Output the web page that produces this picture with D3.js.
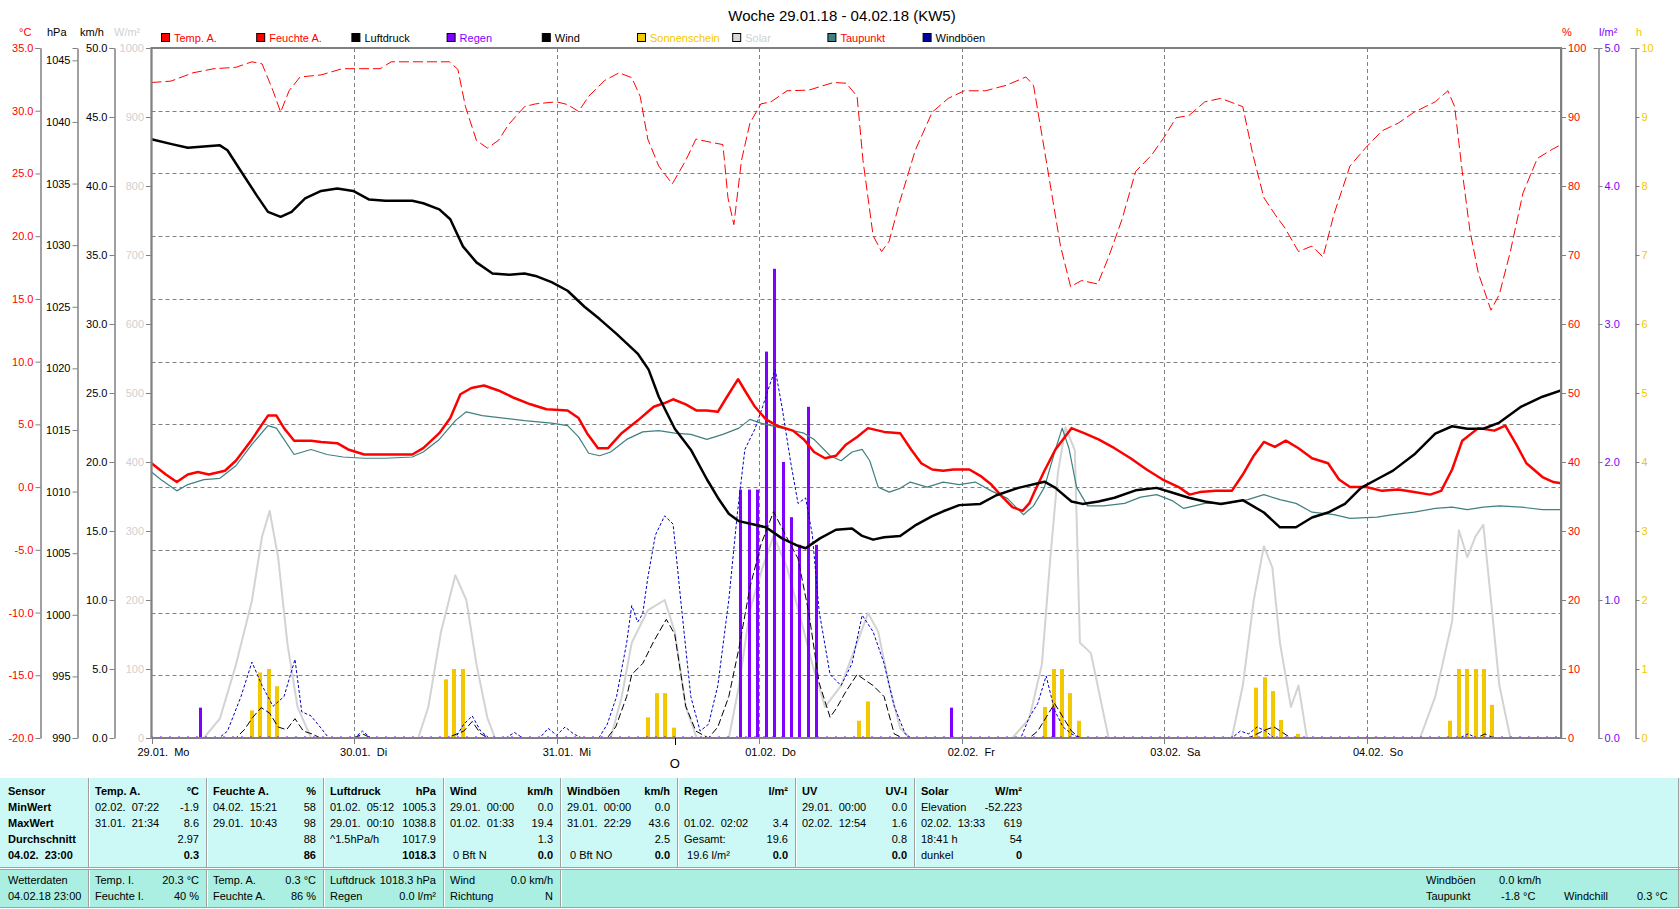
<!DOCTYPE html>
<html>
<head>
<meta charset="utf-8">
<script src="https://cdn.jsdelivr.net/npm/d3@7"></script>
<style>
  body { margin: 0; background: #fff; }
  svg text { font-family: "Liberation Sans", Arial, sans-serif; font-size: 11px; white-space: pre; }
</style>
</head>
<body>
<svg id="chart" width="1680" height="909"></svg>
<script>
// week data, x = hours since 29.01. 00:00
const tempA = [[0,1.9],[1.7,1.0],[3,0.4],[4.3,1.0],[5.5,1.2],[6.8,1.0],[8.7,1.3],[10,2.1],[11.9,3.8],[13.8,5.7],[14.8,5.7],[15.7,4.7],[16.9,3.7],[18.9,3.7],[20.1,3.6],[22,3.5],[23.3,3.0],[25.2,2.6],[27.7,2.6],[30.9,2.6],[32.2,3.1],[34.1,4.3],[35.4,5.5],[36.6,7.4],[37.9,7.9],[39.4,8.1],[41.1,7.7],[43,7.1],[44.9,6.6],[46.8,6.2],[49.3,6.1],[50.6,5.5],[51.6,4.3],[52.9,3.1],[54.1,3.1],[55.7,4.3],[57.6,5.3],[59.5,6.4],[60.8,6.7],[61.8,7.0],[63.3,6.6],[64.6,6.1],[65.8,6.1],[67.1,6.0],[68.1,7.1],[69.5,8.6],[70.3,7.7],[71.5,6.4],[72.8,5.4],[74.1,4.9],[76,4.5],[77.3,3.8],[78.5,2.8],[79.8,2.3],[81.1,2.5],[82.3,3.4],[83.6,4.0],[84.9,4.7],[86.8,4.4],[88.7,4.3],[90,3.0],[91.2,1.9],[92.5,1.4],[93.8,1.3],[95,1.4],[96.9,1.4],[98.2,0.9],[99.5,0.2],[100.7,-0.7],[102,-1.6],[103.2,-1.9],[104,-1.3],[104.6,-0.4],[105.8,1.3],[107.1,3.0],[109,4.7],[110.5,4.3],[112.2,3.8],[114.1,3.1],[116,2.3],[117.9,1.4],[119.8,0.6],[121.7,0],[123,-0.6],[124.2,-0.4],[126.1,-0.3],[128,-0.3],[129.3,1.0],[130.6,2.5],[131.8,3.6],[133.1,3.2],[134.4,3.7],[135.9,3.1],[137.5,2.3],[139.4,1.9],[140.7,0.6],[142,0],[143.9,0],[145.8,-0.3],[147.7,-0.2],[149.6,-0.4],[151.5,-0.6],[152.8,-0.3],[154.1,1.4],[155.3,3.7],[157.2,4.7],[159.1,4.5],[160.4,4.9],[161.7,3.4],[162.9,1.9],[164.8,0.8],[166.1,0.4],[167,0.3]];

const taupunkt = [[0,1.2],[1.1,0.6],[3,-0.3],[4.3,0.2],[6.2,0.6],[8.1,0.7],[10,1.7],[11.9,3.4],[13.8,4.9],[14.8,4.7],[15.7,3.8],[16.9,2.6],[18.9,3.0],[20.8,2.6],[22.7,2.4],[25.2,2.3],[27.7,2.3],[30.9,2.4],[32.2,2.8],[34.1,3.8],[36,5.3],[37.3,6.0],[39.2,5.7],[41.7,5.5],[44.2,5.3],[47.4,5.1],[49.3,4.9],[50.6,4.0],[51.8,2.7],[53.1,2.5],[54.4,2.8],[56.3,3.8],[58.2,4.4],[60.1,4.5],[62,4.3],[63.9,4.2],[65.8,3.8],[67.7,4.2],[69.6,4.7],[70.9,5.4],[72.2,5.1],[73.4,4.9],[75.3,4.6],[77.3,4.3],[78.5,3.8],[80.4,2.5],[81.7,2.1],[83,2.8],[84.2,3.0],[85.1,2.1],[86.1,0],[87.4,-0.4],[88.7,-0.1],[89.9,0.4],[91.9,0],[93.8,0.4],[95.7,0.2],[97.6,0.4],[99.5,-0.3],[101.4,-0.9],[103.3,-2.2],[104.5,-1.5],[105.8,0],[107.1,3.0],[107.9,4.7],[108.7,3.1],[109.6,0],[110.9,-1.5],[112.8,-1.5],[115.3,-1.3],[117.2,-0.8],[119.1,-0.6],[121,-1.1],[122.3,-1.7],[124.8,-1.3],[127.4,-1.3],[129.9,-1.0],[131.8,-0.6],[133.7,-1.0],[135.6,-1.3],[137.5,-2.0],[140.1,-2.2],[142,-2.5],[145.2,-2.4],[147.1,-2.2],[149.6,-2.0],[152.1,-1.7],[154.1,-1.6],[155.9,-1.8],[157.8,-1.6],[159.7,-1.5],[162.3,-1.6],[164.8,-1.8],[167,-1.8]];

const luftdruck = [[0,1038.6],[2.4,1038.2],[4.3,1037.9],[6.2,1038.0],[8.1,1038.1],[9,1037.7],[10.6,1036.0],[12.5,1034.0],[13.8,1032.7],[15.3,1032.3],[16.6,1032.7],[18.2,1033.8],[20.1,1034.4],[22,1034.6],[23.9,1034.4],[25.8,1033.7],[27.7,1033.6],[30.9,1033.6],[32.2,1033.4],[34.1,1032.9],[35.4,1032.1],[36.9,1029.9],[38.5,1028.6],[40.4,1027.7],[42.4,1027.6],[44.2,1027.7],[45.5,1027.5],[47.4,1027.0],[49.3,1026.3],[51.3,1025.0],[53.1,1024.0],[55.1,1022.8],[57.6,1021.2],[58.9,1019.9],[60.1,1017.7],[62,1015.1],[63.9,1013.4],[65.8,1011.0],[67.1,1009.5],[68.4,1008.2],[69.6,1007.6],[71.5,1007.3],[72.8,1007.1],[74.7,1006.2],[76.6,1005.6],[77.5,1005.4],[79.2,1006.2],[81.1,1006.9],[83,1007.0],[84.2,1006.4],[85.5,1006.1],[86.8,1006.3],[88.7,1006.4],[90.6,1007.3],[92.5,1008.0],[93.8,1008.4],[95.7,1008.9],[98.2,1009.0],[100.1,1009.7],[102.7,1010.3],[105.8,1010.8],[107.1,1010.3],[109,1009.2],[110.3,1009.0],[112.2,1009.2],[114.1,1009.5],[116.6,1010.1],[119.1,1010.3],[121,1009.9],[122.9,1009.5],[124.8,1009.2],[126.7,1009.0],[129.3,1009.3],[131.8,1008.3],[133.7,1007.1],[135.6,1007.1],[137.5,1007.9],[139.4,1008.3],[141.4,1009.0],[143.3,1010.3],[145.2,1011.0],[147.1,1011.7],[149.6,1013.0],[152.1,1014.7],[154.1,1015.3],[155.9,1015.1],[157.8,1015.1],[159.7,1015.6],[162.3,1016.9],[164.8,1017.7],[167,1018.2]];

const feuchteA = [[0,95],[2.3,95.2],[4.9,96.4],[7.4,97],[10,97.2],[11.9,98],[13.1,97.7],[14.4,93.8],[15.3,90.7],[16.3,93.8],[17.6,95.8],[20.1,96.1],[22.6,97],[27.1,97],[28.4,98],[35.3,98],[36.3,96.9],[37.2,91.5],[38.5,86.6],[39.8,85.5],[41.1,86.6],[42.3,88.9],[44.2,91.5],[45.5,91.9],[48,92.2],[49.3,91.8],[50.6,90.8],[51.8,93],[53.7,95.3],[55.4,96.4],[56.9,95.7],[57.9,93],[58.8,86.8],[60.1,82.9],[61.7,80.3],[63.3,83.7],[64.5,86.8],[66.4,86.3],[67.7,86],[68.3,78.3],[69,74.4],[69.9,83.7],[70.9,89.1],[72.2,91.9],[73.4,92.2],[75.3,93.8],[77.9,93.9],[80.8,95],[82.3,94.9],[83.6,93],[84.3,83.7],[85.5,72.8],[86.5,70.5],[87.4,72],[88.6,77.5],[90.5,85.2],[92.5,90.7],[94.4,92.7],[96.3,93.8],[98.8,93.8],[101.3,94.6],[103.6,95.8],[104.5,94.6],[105.8,85.2],[107.7,71.3],[108.9,65.4],[110.2,66.3],[112.1,65.8],[113.4,69.7],[115,75.2],[116.6,82.1],[118.5,84.5],[120,87.1],[121.4,89.9],[122.9,90.2],[124.8,92.2],[126.7,92.7],[129.3,91.5],[130.5,84.5],[131.8,78.3],[133.1,75.9],[134.3,73.9],[135.9,70.5],[137.5,71.3],[138.8,69.7],[140.1,75.9],[142,82.9],[143.9,85.6],[145.8,88],[147.7,89.1],[149.6,90.7],[152.1,92.2],[153.6,93.8],[154.4,91.5],[155.3,82.1],[156.2,73.6],[157.2,67.4],[158.7,62],[159.7,64.3],[161,70.5],[162.5,79],[164.2,84],[165.8,85.2],[167,86]];

const wind = [[0,0],[10,0],[11,0.6],[12,1.5],[13,2.2],[14,1.8],[15,0.8],[16,0.6],[17,1.4],[18,0.5],[19,0.3],[20,0],[24,0],[25,0.3],[26,0],[35,0],[37,0.5],[38,1.2],[39,0.3],[40,0],[54,0],[55,0.8],[56.3,3.0],[56.9,4.6],[58.2,5.4],[59.5,7.0],[61,8.6],[62,7.5],[63.3,2.3],[64.5,0.5],[66,0],[67.1,0.8],[68.4,3.0],[69.6,6.5],[70.9,10.9],[72.2,14.0],[73.7,16.4],[75.3,14.5],[76.6,13.0],[77.9,9.0],[79.1,4.0],[80.4,1.5],[81.2,2.2],[82.3,3.4],[83.6,4.6],[85.5,3.8],[86.8,3.0],[88,0.3],[89,0],[104,0],[105,0.5],[106,1.5],[107,2.5],[108,1.5],[109,0.5],[110,0],[130,0],[131,0.3],[132,0.6],[133,0.8],[134,0.4],[135,0],[157,0],[158,0.3],[159,0],[167,0]];

const windboeen = [[0,0],[8,0],[9,0.5],[10.6,3.0],[11.9,5.5],[13.1,3.8],[14.4,2.3],[15.7,3.0],[17,5.7],[17.8,1.9],[18.9,1.6],[20.1,0.7],[21,0],[24,0],[25,0.5],[26,0],[36,0],[37,1.0],[38,1.6],[39,0.5],[40,0],[42,0],[43,0.4],[44,0],[46,0],[47,0.7],[48,0.2],[49,0.8],[50,0.3],[51,0],[53,0],[54,1.0],[55.1,3.0],[56.3,6.9],[56.9,9.6],[57.6,8.4],[58.2,9.0],[58.8,11.6],[59.7,14.7],[60.8,16.1],[61.8,15.5],[62.7,10.0],[63.9,3.0],[65,0.5],[66,1.0],[67.1,3.8],[68.4,10.0],[69.4,16.2],[70.3,20.9],[71.5,22.4],[72.4,24.0],[73.2,25.5],[73.9,26.7],[74.7,24.0],[75.7,20.1],[76.6,17.0],[77.5,17.4],[78.3,14.7],[79.1,9.2],[80.4,4.6],[81.7,3.8],[83,5.4],[84.2,8.9],[85.5,7.7],[86.8,5.4],[88,2.3],[89.3,0.3],[90,0],[103,0],[104,1.5],[105,2.5],[106,4.5],[107,2.0],[108,0.8],[109,0.3],[110,0],[128,0],[129,0.5],[130,0.3],[131,0.8],[132,0.5],[133,0],[155,0],[156,0.3],[157,0],[167,0]];

const solar = [[0,0],[6.2,0],[8.1,28],[10,106],[11.9,199],[13.1,292],[14,329],[15,262],[16.1,137],[17.3,45],[18.9,0],[31.6,0],[32.8,45],[34.3,154],[36,236],[37.3,200],[38.5,107],[39.8,29],[40.7,0],[54.4,0],[55.7,59],[56.9,138],[58.8,185],[60.8,200],[62,154],[63.3,45],[64.6,0],[68.4,0],[69.6,75],[70.9,185],[72.4,247],[73.7,293],[75.3,247],[77,169],[78.3,107],[79.8,45],[81.7,76],[83.6,138],[84.9,181],[86.1,154],[87.4,76],[88.7,14],[89.9,0],[102,0],[104,28],[105.5,107],[106.5,262],[107.4,385],[108.3,450],[109.4,417],[110,138],[111.3,123],[112.1,76],[113.4,0],[128,0],[129.3,76],[130.6,200],[131.8,278],[132.8,247],[133.7,138],[135,45],[135.9,76],[136.9,0],[150.3,0],[152.1,60],[154.1,169],[154.9,301],[155.9,262],[156.9,293],[157.8,309],[158.7,200],[159.7,76],[161,0],[167,0]];

// hourly bars
const regen = [[6,0.22],[70,1.8],[71,1.8],[72,1.8],[73,2.8],[74,3.4],[75,2.0],[76,1.6],[77,1.4],[78,2.4],[79,1.4],[95,0.22],[107,0.22]];
const sonne = [[12,0.4],[13,0.95],[14,1.0],[15,0.75],[35,0.85],[36,1.0],[37,1.0],[59,0.3],[60,0.65],[61,0.65],[62,0.15],[84,0.25],[85,0.53],[106,0.45],[107,1.0],[108,1.0],[109,0.65],[110,0.25],[131,0.73],[132,0.88],[133,0.68],[134,0.26],[136,0.06],[154,0.25],[155,1.0],[156,1.0],[157,1.0],[158,1.0],[159,0.48]];

const dayLabels = ['29.01.  Mo', '30.01.  Di', '31.01.  Mi', '01.02.  Do', '02.02.  Fr', '03.02.  Sa', '04.02.  So'];
const legendNames = ['Temp. A.', 'Feuchte A.', 'Luftdruck', 'Regen', 'Wind', 'Sonnenschein', 'Solar', 'Taupunkt', 'Windböen'];
const legendFill = ['#ff0000', '#ff0000', '#000000', '#8000ff', '#000000', '#f2c800', '#d8d8d8', '#408080', '#0000a0'];
const legendText = ['#ff0000', '#ff0000', '#000000', '#8000ff', '#000000', '#f2c800', '#d0d0d0', '#ff0000', '#000000'];

// statistics table
const statCols = [
  {name: 'Temp. A.', unit: '°C', rows: [['02.02.  07:22', '-1.9'], ['31.01.  21:34', '8.6'], ['', '2.97'], ['', '0.3']]},
  {name: 'Feuchte A.', unit: '%', rows: [['04.02.  15:21', '58'], ['29.01.  10:43', '98'], ['', '88'], ['', '86']]},
  {name: 'Luftdruck', unit: 'hPa', rows: [['01.02.  05:12', '1005.3'], ['29.01.  00:10', '1038.8'], ['^1.5hPa/h', '1017.9'], ['', '1018.3']]},
  {name: 'Wind', unit: 'km/h', rows: [['29.01.  00:00', '0.0'], ['01.02.  01:33', '19.4'], ['', '1.3'], [' 0 Bft N', '0.0']]},
  {name: 'Windböen', unit: 'km/h', rows: [['29.01.  00:00', '0.0'], ['31.01.  22:29', '43.6'], ['', '2.5'], [' 0 Bft NO', '0.0']]},
  {name: 'Regen', unit: 'l/m²', rows: [['', ''], ['01.02.  02:02', '3.4'], ['Gesamt:', '19.6'], [' 19.6 l/m²', '0.0']]},
  {name: 'UV', unit: 'UV-I', rows: [['29.01.  00:00', '0.0'], ['02.02.  12:54', '1.6'], ['', '0.8'], ['', '0.0']]},
  {name: 'Solar', unit: 'W/m²', rows: [['Elevation', '-52.223'], ['02.02.  13:33', '619'], ['18:41 h', '54'], ['dunkel', '0']]}
];
const rowNames = ['Sensor', 'MinWert', 'MaxWert', 'Durchschnitt', '04.02.  23:00'];
const currentCols = [
  [['Wetterdaten', ''], ['04.02.18 23:00', '']],
  [['Temp. I.', '20.3 °C'], ['Feuchte I.', '40 %']],
  [['Temp. A.', '0.3 °C'], ['Feuchte A.', '86 %']],
  [['Luftdruck', '1018.3 hPa'], ['Regen', '0.0 l/m²']],
  [['Wind', '0.0 km/h'], ['Richtung', 'N']]
];

const svg = d3.select('#chart');
const plot = {left: 151.5, right: 1561, top: 48, bottom: 738};
const grey = '#808080';

const x = d3.scaleLinear().domain([0, 167]).range([plot.left, plot.right]);
const yTemp = d3.scaleLinear().domain([-20, 35]).range([plot.bottom, plot.top]);
const yDruck = d3.scaleLinear().domain([990, 1046]).range([plot.bottom, plot.top]);
const yWind = d3.scaleLinear().domain([0, 50]).range([plot.bottom, plot.top]);
const ySolar = d3.scaleLinear().domain([0, 1000]).range([plot.bottom, plot.top]);
const yFeuchte = d3.scaleLinear().domain([0, 100]).range([plot.bottom, plot.top]);
const yRegen = d3.scaleLinear().domain([0, 5]).range([plot.bottom, plot.top]);
const ySonne = d3.scaleLinear().domain([0, 10]).range([plot.bottom, plot.top]);

// title
svg.append('text')
    .attr('x', 842).attr('y', 21)
    .attr('text-anchor', 'middle')
    .style('font-size', '15px')
    .text('Woche 29.01.18 - 04.02.18 (KW5)');

// legend
legendNames.forEach(function(name, i) {
    var lx = 161 + i * 95.2;
    svg.append('rect')
        .attr('x', lx + 0.5).attr('y', 33.5)
        .attr('width', 8).attr('height', 8)
        .attr('fill', legendFill[i])
        .attr('stroke', '#000');
    svg.append('text')
        .attr('x', lx + 13).attr('y', 41.5)
        .attr('fill', legendText[i])
        .text(name);
});

// gridlines
var grid = svg.append('g');
grid.selectAll('line.h')
    .data(d3.range(-15, 35, 5))
    .enter().append('line')
    .attr('x1', plot.left).attr('x2', plot.right)
    .attr('y1', d => Math.round(yTemp(d)) + 0.5).attr('y2', d => Math.round(yTemp(d)) + 0.5)
    .attr('stroke', grey).attr('stroke-dasharray', '4,3');
grid.selectAll('line.v')
    .data(d3.range(24, 167, 24))
    .enter().append('line')
    .attr('x1', d => Math.round(x(d)) + 0.5).attr('x2', d => Math.round(x(d)) + 0.5)
    .attr('y1', plot.top).attr('y2', plot.bottom)
    .attr('stroke', grey).attr('stroke-dasharray', '4,3');

svg.append('clipPath').attr('id', 'clip')
    .append('rect')
    .attr('x', plot.left).attr('y', plot.top)
    .attr('width', plot.right - plot.left).attr('height', plot.bottom - plot.top);
var area = svg.append('g').attr('clip-path', 'url(#clip)');

function drawLine(data, yScale, color, width, dash) {
    var line = d3.line().x(d => x(d[0])).y(d => yScale(d[1]));
    area.append('path')
        .datum(data)
        .attr('d', line)
        .attr('fill', 'none')
        .attr('stroke', color)
        .attr('stroke-width', width)
        .attr('stroke-dasharray', dash || null)
        .attr('stroke-linejoin', 'round');
}

function drawBars(data, yScale, color, w) {
    area.selectAll(null)
        .data(data)
        .enter().append('rect')
        .attr('x', d => Math.round(x(d[0])) - 3)
        .attr('width', w)
        .attr('y', d => yScale(d[1]))
        .attr('height', d => plot.bottom - yScale(d[1]))
        .attr('fill', color);
}

drawLine(solar, ySolar, '#d3d3d3', 2);
drawBars(sonne, ySonne, '#f2c800', 4);
drawBars(regen, yRegen, '#8000ff', 3);
drawLine(windboeen, yWind, '#0000c8', 1, '3,2');
drawLine(wind, yWind, '#000', 1, '7,3');
drawLine(feuchteA, yFeuchte, '#ff0000', 1, '10,4');
drawLine(taupunkt, yTemp, '#408080', 1.2);
drawLine(tempA, yTemp, '#ff0000', 2.5);
drawLine(luftdruck, yDruck, '#000', 2.5);

// dotted zero line for rain
area.append('line')
    .attr('x1', plot.left).attr('x2', plot.right)
    .attr('y1', plot.bottom - 1.5).attr('y2', plot.bottom - 1.5)
    .attr('stroke', '#8000ff').attr('stroke-dasharray', '1,8');

// frame
svg.append('path')
    .attr('d', `M${plot.left},${plot.bottom}V${plot.top}H${plot.right}V${plot.bottom}`)
    .attr('fill', 'none').attr('stroke', grey).attr('stroke-width', 2);
svg.append('line')
    .attr('x1', plot.left).attr('x2', plot.right)
    .attr('y1', plot.bottom).attr('y2', plot.bottom)
    .attr('stroke', grey).attr('stroke-width', 2);

// x axis days
var days = d3.range(0, 167, 24);
svg.selectAll('line.dayTick')
    .data(days).enter().append('line')
    .attr('x1', d => Math.round(x(d)) + 0.5).attr('x2', d => Math.round(x(d)) + 0.5)
    .attr('y1', plot.bottom).attr('y2', plot.bottom + 6)
    .attr('stroke', grey);
svg.selectAll('text.day')
    .data(days).enter().append('text')
    .attr('x', d => x(d) - 14)
    .attr('y', 756)
    .text((d, i) => dayLabels[i]);

// wind direction mark
svg.append('line')
    .attr('x1', Math.round(x(62)) + 0.5).attr('x2', Math.round(x(62)) + 0.5)
    .attr('y1', plot.bottom).attr('y2', plot.bottom + 7)
    .attr('stroke', '#000');
svg.append('text')
    .attr('x', x(62)).attr('y', 768)
    .attr('text-anchor', 'middle')
    .style('font-size', '13px')
    .text('O');

// value axes
function fix1(d) { return d.toFixed(1); }
function addAxis(axis, xPos, color, unit, unitX) {
    var g = svg.append('g')
        .attr('transform', `translate(${xPos},0)`)
        .call(axis);
    g.select('.domain').attr('stroke', grey).attr('stroke-width', 1.5);
    g.selectAll('line').attr('stroke', grey);
    g.selectAll('text').attr('fill', color).style('font-size', '11px');
    svg.append('text')
        .attr('x', unitX).attr('y', 36)
        .attr('fill', color)
        .text(unit);
}

addAxis(d3.axisLeft(yTemp).tickValues(d3.range(-20, 36, 5)).tickFormat(fix1).tickSize(5).tickSizeOuter(0).tickPadding(2),
    40.5, '#ff0000', '°C', 19);
addAxis(d3.axisLeft(yDruck).tickValues(d3.range(990, 1046, 5)).tickFormat(d3.format('d')).tickSize(5).tickSizeOuter(0).tickPadding(2),
    77.5, '#000', 'hPa', 47);
addAxis(d3.axisLeft(yWind).tickValues(d3.range(0, 51, 5)).tickFormat(fix1).tickSize(5).tickSizeOuter(0).tickPadding(2),
    114.5, '#000', 'km/h', 80);
addAxis(d3.axisLeft(ySolar).tickValues(d3.range(0, 1001, 100)).tickFormat(d3.format('d')).tickSize(5).tickSizeOuter(0).tickPadding(2),
    151, '#d0d0d0', 'W/m²', 114);
addAxis(d3.axisRight(yFeuchte).tickValues(d3.range(0, 101, 10)).tickFormat(d3.format('d')).tickSize(5).tickSizeOuter(0).tickPadding(2),
    1561, '#ff0000', '%', 1562);
addAxis(d3.axisRight(yRegen).tickValues(d3.range(0, 5.1, 1)).tickFormat(fix1).tickSize(4).tickSizeOuter(0).tickPadding(2),
    1598.5, '#8000ff', 'l/m²', 1599);
addAxis(d3.axisRight(ySonne).tickValues(d3.range(0, 11, 1)).tickFormat(d3.format('d')).tickSize(4).tickSizeOuter(0).tickPadding(2),
    1635.5, '#f2c800', 'h', 1636);
// small caps at the top of the axes
[40.5, 77.5, 114.5, 151, 1598.5, 1635.5].forEach(function(ax) {
    svg.append('line')
        .attr('x1', ax - 5).attr('x2', ax)
        .attr('y1', plot.top + 0.5).attr('y2', plot.top + 0.5)
        .attr('stroke', grey);
});

// ---- statistics panel ----
var tab = svg.append('g');
var seps = [88, 206, 323, 443, 560, 677, 795, 914];
tab.append('rect').attr('x', 0).attr('y', 778).attr('width', 1680).attr('height', 89).attr('fill', '#ccf9f5');
tab.append('rect').attr('x', 0).attr('y', 870).attr('width', 1680).attr('height', 37).attr('fill', '#aaefe1');
tab.append('line').attr('x1', 0).attr('x2', 1680).attr('y1', 867.5).attr('y2', 867.5).attr('stroke', '#a0a0a0');
tab.append('line').attr('x1', 0).attr('x2', 1680).attr('y1', 869.5).attr('y2', 869.5).attr('stroke', '#a0a0a0');
tab.append('line').attr('x1', 0).attr('x2', 1680).attr('y1', 907.5).attr('y2', 907.5).attr('stroke', '#a0a0a0');
tab.append('line').attr('x1', 1678.5).attr('x2', 1678.5).attr('y1', 778).attr('y2', 908).attr('stroke', '#a0a0a0');
seps.forEach(function(sx) {
    tab.append('line').attr('x1', sx + 0.5).attr('x2', sx + 0.5).attr('y1', 778).attr('y2', 867).attr('stroke', '#a0a0a0');
    tab.append('line').attr('x1', sx + 1.5).attr('x2', sx + 1.5).attr('y1', 778).attr('y2', 867).attr('stroke', '#ffffff');
});
seps.slice(0, 5).forEach(function(sx) {
    tab.append('line').attr('x1', sx + 0.5).attr('x2', sx + 0.5).attr('y1', 870).attr('y2', 907).attr('stroke', '#a0a0a0');
    tab.append('line').attr('x1', sx + 1.5).attr('x2', sx + 1.5).attr('y1', 870).attr('y2', 907).attr('stroke', '#ffffff');
});

var rowY = [795, 811, 827, 843, 859];
rowNames.forEach(function(r, i) {
    tab.append('text').attr('x', 8).attr('y', rowY[i]).style('font-weight', 'bold').text(r);
});
statCols.forEach(function(c, i) {
    var left = seps[i] + 7;
    var right = (i + 1 < seps.length ? seps[i + 1] : 1029) - 7;
    tab.append('text').attr('x', left).attr('y', rowY[0]).style('font-weight', 'bold').text(c.name);
    tab.append('text').attr('x', right).attr('y', rowY[0]).attr('text-anchor', 'end').style('font-weight', 'bold').text(c.unit);
    c.rows.forEach(function(r, j) {
        var last = j === 3;
        tab.append('text').attr('x', left).attr('y', rowY[j + 1]).text(r[0]);
        tab.append('text').attr('x', right).attr('y', rowY[j + 1]).attr('text-anchor', 'end')
            .style('font-weight', last ? 'bold' : null).text(r[1]);
    });
});

var curY = [884, 900];
var curLeft = [0].concat(seps.slice(0, 4));
currentCols.forEach(function(c, i) {
    var left = curLeft[i] + 7;
    var right = seps[i] - 7;
    c.forEach(function(r, j) {
        tab.append('text').attr('x', i === 0 ? 8 : left).attr('y', curY[j]).text(r[0]);
        tab.append('text').attr('x', right).attr('y', curY[j]).attr('text-anchor', 'end').text(r[1]);
    });
});
tab.append('text').attr('x', 1426).attr('y', curY[0]).text('Windböen');
tab.append('text').attr('x', 1499).attr('y', curY[0]).text('0.0 km/h');
tab.append('text').attr('x', 1426).attr('y', curY[1]).text('Taupunkt');
tab.append('text').attr('x', 1501).attr('y', curY[1]).text('-1.8 °C');
tab.append('text').attr('x', 1564).attr('y', curY[1]).text('Windchill');
tab.append('text').attr('x', 1637).attr('y', curY[1]).text('0.3 °C');
</script>
</body>
</html>
